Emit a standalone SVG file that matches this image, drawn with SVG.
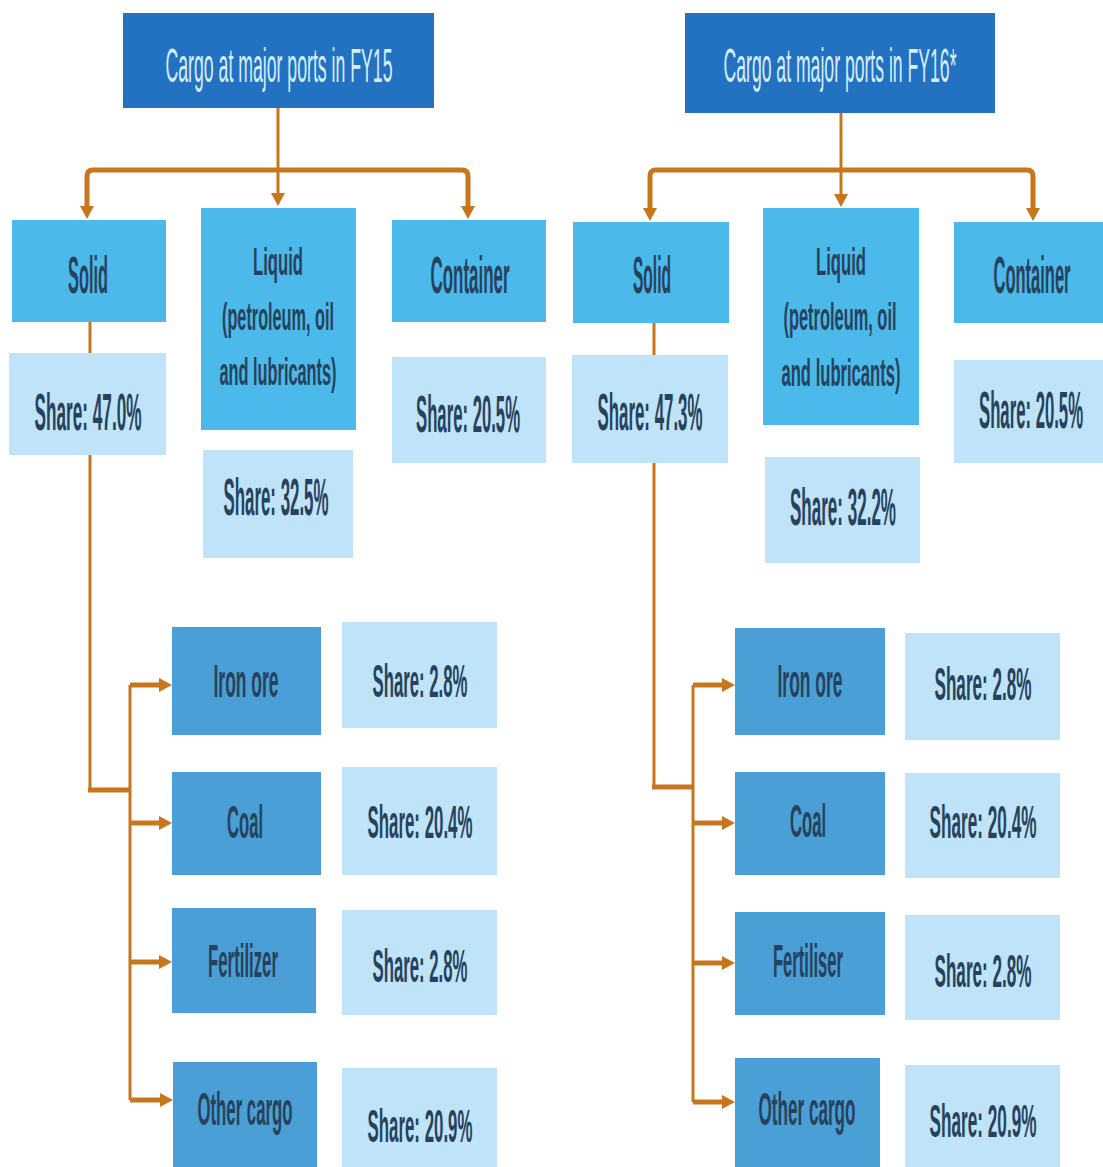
<svg xmlns="http://www.w3.org/2000/svg" width="1103" height="1167" viewBox="0 0 1103 1167">
<defs>
<marker id="ah" markerUnits="userSpaceOnUse" markerWidth="14" markerHeight="14" refX="2" refY="7" orient="auto">
<path d="M0,0 L13,7 L0,14 z" fill="#c8761c"/>
</marker>
<style>
text{font-family:"Liberation Sans",Arial,sans-serif;text-anchor:middle;fill:#27425c;font-weight:bold}
.title rect{fill:#2372c2}
.title text{fill:#d6edfb;font-size:48px;font-weight:normal}
.cat rect{fill:#4bb9ea}
.share rect{fill:#bfe4f9}
.sub rect{fill:#4a9fd6}
.big{font-size:52px}
.lq{font-size:38px}
.sb{font-size:47px}
.conn path{fill:none;stroke:#c8761c;stroke-width:3}
.conn path.thick{stroke-width:5}
</style>
</defs>
<rect width="1103" height="1167" fill="#ffffff"/>

<g id="connectors" class="conn">
<!-- FY15 -->
<path d="M278,108 V195" marker-end="url(#ah)"/>
<path class="thick" d="M278,170 H93 Q87,170 87,176 V208" marker-end="url(#ah)"/>
<path class="thick" d="M278,170 H462 Q468,170 468,176 V208" marker-end="url(#ah)"/>
<path d="M90,322 V790"/>
<path class="thick" d="M88,790 H130"/>
<path d="M130,685 V1100"/>
<path class="thick" d="M130,685 H161" marker-end="url(#ah)"/>
<path class="thick" d="M130,823 H161" marker-end="url(#ah)"/>
<path class="thick" d="M130,962 H161" marker-end="url(#ah)"/>
<path class="thick" d="M130,1100 H162" marker-end="url(#ah)"/>
<!-- FY16 -->
<path d="M841,113 V196" marker-end="url(#ah)"/>
<path class="thick" d="M841,170 H656 Q650,170 650,176 V210" marker-end="url(#ah)"/>
<path class="thick" d="M841,170 H1027 Q1033,170 1033,176 V210" marker-end="url(#ah)"/>
<path d="M654,323 V787"/>
<path class="thick" d="M652,787 H693"/>
<path d="M693,685 V1102"/>
<path class="thick" d="M693,685 H724" marker-end="url(#ah)"/>
<path class="thick" d="M693,823 H724" marker-end="url(#ah)"/>
<path class="thick" d="M693,963 H724" marker-end="url(#ah)"/>
<path class="thick" d="M693,1102 H724" marker-end="url(#ah)"/>
</g>

<!-- FY15 nodes -->
<g id="title15" class="title"><rect x="123" y="13" width="311" height="95"/><text x="279" y="82" textLength="227" lengthAdjust="spacingAndGlyphs">Cargo at major ports in FY15</text></g>
<g id="solid15" class="cat"><rect x="12" y="220" width="154" height="102"/><text class="big" x="88" y="293" textLength="40" lengthAdjust="spacingAndGlyphs">Solid</text></g>
<g id="solidShare15" class="share"><rect x="9" y="353" width="157" height="102"/><text class="big" x="88" y="430" textLength="107" lengthAdjust="spacingAndGlyphs">Share: 47.0%</text></g>
<g id="liquid15" class="cat"><rect x="201" y="208" width="155" height="222"/>
<text class="lq" x="278" y="275" textLength="50" lengthAdjust="spacingAndGlyphs">Liquid</text>
<text class="lq" x="278" y="330" textLength="112" lengthAdjust="spacingAndGlyphs">(petroleum, oil</text>
<text class="lq" x="278" y="385" textLength="117" lengthAdjust="spacingAndGlyphs">and lubricants)</text></g>
<g id="liquidShare15" class="share"><rect x="203" y="450" width="150" height="108"/><text class="big" x="276" y="515" textLength="105" lengthAdjust="spacingAndGlyphs">Share: 32.5%</text></g>
<g id="container15" class="cat"><rect x="392" y="220" width="154" height="102"/><text class="big" x="470" y="293" textLength="79" lengthAdjust="spacingAndGlyphs">Container</text></g>
<g id="containerShare15" class="share"><rect x="392" y="357" width="154" height="106"/><text class="big" x="468" y="432" textLength="104" lengthAdjust="spacingAndGlyphs">Share: 20.5%</text></g>
<g id="iron15" class="sub"><rect x="172" y="627" width="149" height="108"/><text class="sb" x="246" y="697" textLength="65" lengthAdjust="spacingAndGlyphs">Iron ore</text></g>
<g id="ironShare15" class="share"><rect x="342" y="622" width="155" height="106"/><text class="sb" x="420" y="697" textLength="95" lengthAdjust="spacingAndGlyphs">Share: 2.8%</text></g>
<g id="coal15" class="sub"><rect x="172" y="772" width="149" height="103"/><text class="sb" x="245" y="838" textLength="36" lengthAdjust="spacingAndGlyphs">Coal</text></g>
<g id="coalShare15" class="share"><rect x="342" y="767" width="155" height="108"/><text class="sb" x="420" y="838" textLength="105" lengthAdjust="spacingAndGlyphs">Share: 20.4%</text></g>
<g id="fert15" class="sub"><rect x="172" y="908" width="144" height="105"/><text class="sb" x="243" y="977" textLength="70" lengthAdjust="spacingAndGlyphs">Fertilizer</text></g>
<g id="fertShare15" class="share"><rect x="342" y="910" width="155" height="105"/><text class="sb" x="420" y="982" textLength="95" lengthAdjust="spacingAndGlyphs">Share: 2.8%</text></g>
<g id="other15" class="sub"><rect x="173" y="1062" width="144" height="105"/><text class="sb" x="245" y="1125" textLength="95" lengthAdjust="spacingAndGlyphs">Other cargo</text></g>
<g id="otherShare15" class="share"><rect x="342" y="1068" width="155" height="99"/><text class="sb" x="420" y="1142" textLength="105" lengthAdjust="spacingAndGlyphs">Share: 20.9%</text></g>

<!-- FY16 nodes -->
<g id="title16" class="title"><rect x="685" y="13" width="310" height="100"/><text x="840" y="82" textLength="233" lengthAdjust="spacingAndGlyphs">Cargo at major ports in FY16*</text></g>
<g id="solid16" class="cat"><rect x="573" y="222" width="156" height="101"/><text class="big" x="652" y="293" textLength="38" lengthAdjust="spacingAndGlyphs">Solid</text></g>
<g id="solidShare16" class="share"><rect x="572" y="355" width="156" height="108"/><text class="big" x="650" y="430" textLength="105" lengthAdjust="spacingAndGlyphs">Share: 47.3%</text></g>
<g id="liquid16" class="cat"><rect x="763" y="208" width="156" height="217"/>
<text class="lq" x="841" y="275" textLength="50" lengthAdjust="spacingAndGlyphs">Liquid</text>
<text class="lq" x="840" y="330" textLength="113" lengthAdjust="spacingAndGlyphs">(petroleum, oil</text>
<text class="lq" x="841" y="386" textLength="119" lengthAdjust="spacingAndGlyphs">and lubricants)</text></g>
<g id="liquidShare16" class="share"><rect x="765" y="457" width="155" height="106"/><text class="big" x="843" y="525" textLength="106" lengthAdjust="spacingAndGlyphs">Share: 32.2%</text></g>
<g id="container16" class="cat"><rect x="954" y="222" width="149" height="101"/><text class="big" x="1032" y="293" textLength="77" lengthAdjust="spacingAndGlyphs">Container</text></g>
<g id="containerShare16" class="share"><rect x="954" y="360" width="149" height="103"/><text class="big" x="1031" y="428" textLength="104" lengthAdjust="spacingAndGlyphs">Share: 20.5%</text></g>
<g id="iron16" class="sub"><rect x="735" y="628" width="150" height="107"/><text class="sb" x="810" y="697" textLength="65" lengthAdjust="spacingAndGlyphs">Iron ore</text></g>
<g id="ironShare16" class="share"><rect x="905" y="633" width="155" height="107"/><text class="sb" x="983" y="700" textLength="97" lengthAdjust="spacingAndGlyphs">Share: 2.8%</text></g>
<g id="coal16" class="sub"><rect x="735" y="772" width="150" height="103"/><text class="sb" x="808" y="837" textLength="36" lengthAdjust="spacingAndGlyphs">Coal</text></g>
<g id="coalShare16" class="share"><rect x="905" y="773" width="155" height="105"/><text class="sb" x="983" y="838" textLength="107" lengthAdjust="spacingAndGlyphs">Share: 20.4%</text></g>
<g id="fert16" class="sub"><rect x="735" y="912" width="150" height="103"/><text class="sb" x="808" y="977" textLength="70" lengthAdjust="spacingAndGlyphs">Fertiliser</text></g>
<g id="fertShare16" class="share"><rect x="905" y="915" width="155" height="105"/><text class="sb" x="983" y="987" textLength="97" lengthAdjust="spacingAndGlyphs">Share: 2.8%</text></g>
<g id="other16" class="sub"><rect x="735" y="1058" width="145" height="109"/><text class="sb" x="807" y="1125" textLength="97" lengthAdjust="spacingAndGlyphs">Other cargo</text></g>
<g id="otherShare16" class="share"><rect x="905" y="1065" width="155" height="102"/><text class="sb" x="983" y="1137" textLength="107" lengthAdjust="spacingAndGlyphs">Share: 20.9%</text></g>
</svg>
